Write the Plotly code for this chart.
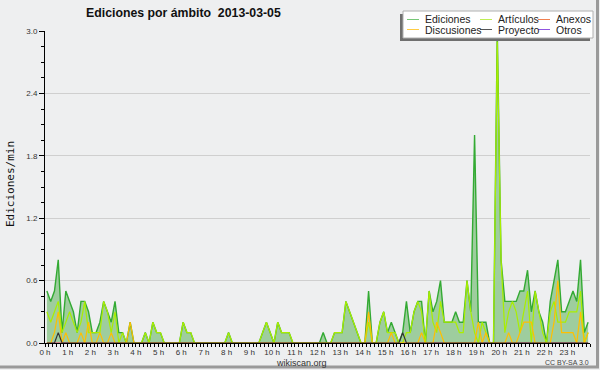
import plotly.graph_objects as go

# ---------------- data (edits per minute, 10-minute bins) ----------------
minutos = list(range(5, 1440, 10))  # bin centres, minutes after 00:00

ediciones = [
    0.5, 0.4, 0.5, 0.8, 0.1, 0.5, 0.4, 0.3, 0.1, 0.4, 0.4, 0.3,
    0.1, 0.1, 0.2, 0.4, 0.3, 0.2, 0.4, 0.1, 0.1, 0.0, 0.2, 0.0,
    0.0, 0.0, 0.1, 0.0, 0.2, 0.1, 0.1, 0.0, 0.0, 0.0, 0.0, 0.0,
    0.2, 0.1, 0.1, 0.0, 0.0, 0.0, 0.0, 0.0, 0.0, 0.0, 0.0, 0.0,
    0.1, 0.0, 0.0, 0.0, 0.0, 0.0, 0.0, 0.0, 0.0, 0.1, 0.2, 0.1,
    0.0, 0.2, 0.1, 0.1, 0.1, 0.0, 0.0, 0.0, 0.0, 0.0, 0.0, 0.0,
    0.0, 0.1, 0.0, 0.0, 0.1, 0.1, 0.1, 0.4, 0.3, 0.2, 0.1, 0.0,
    0.0, 0.5, 0.0, 0.0, 0.2, 0.3, 0.1, 0.2, 0.1, 0.0, 0.1, 0.4,
    0.1, 0.3, 0.4, 0.4, 0.0, 0.5, 0.3, 0.4, 0.6, 0.2, 0.2, 0.2,
    0.3, 0.2, 0.2, 0.6, 0.3, 2.0, 0.2, 0.2, 0.2, 0.0, 0.0, 3.0,
    0.8, 0.4, 0.4, 0.4, 0.4, 0.5, 0.5, 0.7, 0.3, 0.5, 0.3, 0.2,
    0.0, 0.4, 0.6, 0.8, 0.3, 0.3, 0.4, 0.5, 0.4, 0.8, 0.1, 0.2,
]

articulos = [
    0.3, 0.2, 0.3, 0.4, 0.1, 0.2, 0.3, 0.2, 0.1, 0.2, 0.4, 0.1,
    0.1, 0.1, 0.1, 0.4, 0.3, 0.1, 0.3, 0.0, 0.1, 0.0, 0.0, 0.0,
    0.0, 0.0, 0.1, 0.0, 0.2, 0.1, 0.1, 0.0, 0.0, 0.0, 0.0, 0.0,
    0.2, 0.1, 0.1, 0.0, 0.0, 0.0, 0.0, 0.0, 0.0, 0.0, 0.0, 0.0,
    0.1, 0.0, 0.0, 0.0, 0.0, 0.0, 0.0, 0.0, 0.0, 0.1, 0.2, 0.1,
    0.0, 0.2, 0.1, 0.1, 0.1, 0.0, 0.0, 0.0, 0.0, 0.0, 0.0, 0.0,
    0.0, 0.0, 0.0, 0.0, 0.1, 0.1, 0.1, 0.4, 0.3, 0.2, 0.1, 0.0,
    0.0, 0.2, 0.0, 0.0, 0.2, 0.3, 0.1, 0.1, 0.1, 0.0, 0.0, 0.1,
    0.1, 0.3, 0.4, 0.3, 0.0, 0.5, 0.2, 0.1, 0.4, 0.2, 0.2, 0.2,
    0.2, 0.1, 0.1, 0.6, 0.3, 0.1, 0.0, 0.2, 0.1, 0.0, 0.0, 2.9,
    0.8, 0.1, 0.3, 0.4, 0.3, 0.1, 0.3, 0.5, 0.0, 0.5, 0.3, 0.1,
    0.0, 0.3, 0.4, 0.2, 0.2, 0.2, 0.3, 0.3, 0.3, 0.5, 0.0, 0.1,
]

discusiones = [
    0.0, 0.0, 0.1, 0.3, 0.0, 0.1, 0.0, 0.0, 0.0, 0.1, 0.0, 0.2,
    0.0, 0.0, 0.1, 0.0, 0.0, 0.1, 0.0, 0.0, 0.0, 0.0, 0.2, 0.0,
    0.0, 0.0, 0.0, 0.0, 0.0, 0.0, 0.0, 0.0, 0.0, 0.0, 0.0, 0.0,
    0.0, 0.0, 0.0, 0.0, 0.0, 0.0, 0.0, 0.0, 0.0, 0.0, 0.0, 0.0,
    0.0, 0.0, 0.0, 0.0, 0.0, 0.0, 0.0, 0.0, 0.0, 0.0, 0.0, 0.0,
    0.0, 0.0, 0.0, 0.0, 0.0, 0.0, 0.0, 0.0, 0.0, 0.0, 0.0, 0.0,
    0.0, 0.0, 0.0, 0.0, 0.0, 0.0, 0.0, 0.0, 0.0, 0.0, 0.0, 0.0,
    0.0, 0.3, 0.0, 0.0, 0.0, 0.0, 0.0, 0.1, 0.0, 0.0, 0.0, 0.0,
    0.0, 0.0, 0.0, 0.1, 0.0, 0.0, 0.0, 0.2, 0.1, 0.0, 0.0, 0.0,
    0.0, 0.0, 0.0, 0.0, 0.0, 0.0, 0.2, 0.0, 0.1, 0.0, 0.0, 0.0,
    0.0, 0.0, 0.1, 0.0, 0.0, 0.1, 0.2, 0.2, 0.2, 0.0, 0.0, 0.0,
    0.0, 0.0, 0.2, 0.6, 0.1, 0.1, 0.1, 0.1, 0.0, 0.3, 0.0, 0.1,
]

proyecto = [
    0.0, 0.0, 0.0, 0.1, 0.0, 0.0, 0.0, 0.0, 0.0, 0.0, 0.0, 0.0,
    0.0, 0.0, 0.0, 0.0, 0.0, 0.0, 0.0, 0.0, 0.0, 0.0, 0.0, 0.0,
    0.0, 0.0, 0.0, 0.0, 0.0, 0.0, 0.0, 0.0, 0.0, 0.0, 0.0, 0.0,
    0.0, 0.0, 0.0, 0.0, 0.0, 0.0, 0.0, 0.0, 0.0, 0.0, 0.0, 0.0,
    0.0, 0.0, 0.0, 0.0, 0.0, 0.0, 0.0, 0.0, 0.0, 0.0, 0.0, 0.0,
    0.0, 0.0, 0.0, 0.0, 0.0, 0.0, 0.0, 0.0, 0.0, 0.0, 0.0, 0.0,
    0.0, 0.0, 0.0, 0.0, 0.0, 0.0, 0.0, 0.0, 0.0, 0.0, 0.0, 0.0,
    0.0, 0.0, 0.0, 0.0, 0.0, 0.0, 0.0, 0.0, 0.0, 0.0, 0.1, 0.0,
    0.0, 0.0, 0.0, 0.0, 0.0, 0.0, 0.0, 0.0, 0.0, 0.0, 0.0, 0.0,
    0.0, 0.0, 0.0, 0.0, 0.0, 0.0, 0.0, 0.0, 0.0, 0.0, 0.0, 0.0,
    0.0, 0.0, 0.0, 0.0, 0.0, 0.0, 0.0, 0.0, 0.0, 0.0, 0.0, 0.0,
    0.0, 0.0, 0.0, 0.0, 0.0, 0.0, 0.0, 0.0, 0.0, 0.0, 0.0, 0.0,
]

anexos = [0.0] * len(minutos)   # no activity in this namespace
otros = [0.0] * len(minutos)    # no activity in this namespace

hora_vals = [0, 60, 120, 180, 240, 300, 360, 420, 480, 540, 600, 660,
             720, 780, 840, 900, 960, 1020, 1080, 1140, 1200, 1260, 1320, 1380]
hora_text = ["0 h", "1 h", "2 h", "3 h", "4 h", "5 h", "6 h", "7 h", "8 h", "9 h",
             "10 h", "11 h", "12 h", "13 h", "14 h", "15 h", "16 h", "17 h",
             "18 h", "19 h", "20 h", "21 h", "22 h", "23 h"]
y_vals = [0.0, 0.6, 1.2, 1.8, 2.4, 3.0]
y_text = ["0.0", "0.6", "1.2", "1.8", "2.4", "3.0"]

series = [
    ("Ediciones", ediciones, "#33aa33", "#77c777"),
    ("Artículos", articulos, "#aaee00", "#bfee55"),
    ("Anexos", anexos, "#ff7744", "#f08050"),
    ("Discusiones", discusiones, "#ffbf00", "#ffcc44"),
    ("Proyecto", proyecto, "#333333", "#555555"),
    ("Otros", otros, "#9955ee", "#9055e0"),
]
colors = {n: c for n, _, c, _ in series}

BG = "#eeeff0"
FONT = "Liberation Sans"

fig = go.Figure()
fig.add_trace(go.Scatter(x=minutos, y=ediciones, mode="lines", name="Ediciones",
                         line=dict(color=colors["Ediciones"], width=1.4),
                         fill="tozeroy", fillcolor="#9ecd9e"))
for name, vals in [("Otros", otros), ("Anexos", anexos), ("Artículos", articulos),
                   ("Discusiones", discusiones), ("Proyecto", proyecto)]:
    fig.add_trace(go.Scatter(x=minutos, y=vals, mode="lines", name=name,
                             line=dict(color=colors[name], width=1.2)))

# plot area in pixels: x 45..590, y 31..343
def px(X):
    return (X - 45) / 545.0

def py(Y):
    return (343 - Y) / 312.0

shapes = []
annotations = []

# outer frame (right & bottom)
shapes.append(dict(type="line", xref="paper", yref="paper", x0=px(597.5), x1=px(597.5),
                   y0=py(0), y1=py(368), line=dict(color="#9a9a9a", width=3)))
shapes.append(dict(type="line", xref="paper", yref="paper", x0=px(0), x1=px(599),
                   y0=py(367), y1=py(367), line=dict(color="#9a9a9a", width=3)))

# legend box with shadow
shapes.append(dict(type="rect", xref="paper", yref="paper", x0=px(400), x1=px(590),
                   y0=py(41), y1=py(14), fillcolor="#6f6f6f", line=dict(width=0)))
shapes.append(dict(type="rect", xref="paper", yref="paper", x0=px(403), x1=px(593),
                   y0=py(38), y1=py(11), fillcolor="white",
                   line=dict(color="#b0b0b0", width=1)))

legend_pos = [407, 480, 538, 407, 480, 538]
legend_rows = [19.5, 19.5, 19.5, 29.5, 29.5, 29.5]
for (name, _, _, lc), lx, ly in zip(series, legend_pos, legend_rows):
    shapes.append(dict(type="line", xref="paper", yref="paper", x0=px(lx), x1=px(lx + 12),
                       y0=py(ly), y1=py(ly), line=dict(color=lc, width=1)))
    annotations.append(dict(xref="paper", yref="paper", x=px(lx + 16), y=py(ly),
                            xanchor="left", yanchor="middle", showarrow=False,
                            text=name, font=dict(family=FONT, size=10.5, color="#222")))

# title
annotations.append(dict(xref="paper", yref="paper", x=px(84), y=py(13.5),
                        xanchor="left", yanchor="middle", showarrow=False,
                        text="Ediciones por ámbito\u00a0 2013-03-05",
                        font=dict(family=FONT, size=12.3, color="#111", weight="bold")))
# y axis title
annotations.append(dict(xref="paper", yref="paper", x=px(10), y=py(184),
                        xanchor="center", yanchor="middle", showarrow=False, textangle=-90,
                        text="Ediciones/min",
                        font=dict(family="DejaVu Sans Mono", size=11, color="#111")))
# footer texts
annotations.append(dict(xref="paper", yref="paper", x=px(301), y=py(362.5),
                        xanchor="center", yanchor="middle", showarrow=False,
                        text="wikiscan.org", font=dict(family=FONT, size=9, color="#333")))
annotations.append(dict(xref="paper", yref="paper", x=px(591), y=py(362.5),
                        xanchor="right", yanchor="middle", showarrow=False,
                        text="CC BY-SA 3.0", font=dict(family=FONT, size=7, color="#444")))

fig.update_layout(
    width=600, height=370,
    margin=dict(l=45, r=10, t=31, b=27),
    paper_bgcolor=BG, plot_bgcolor=BG,
    showlegend=False,
    font=dict(family=FONT, size=8, color="#333"),
    shapes=shapes, annotations=annotations,
    xaxis=dict(range=[0, 1440], tickmode="array", tickvals=hora_vals, ticktext=hora_text,
               ticks="outside", ticklen=3, tickcolor="black", tickwidth=1,
               ticklabelstandoff=-2,
               showline=True, linecolor="black", linewidth=1,
               showgrid=False, zeroline=False,
               tickfont=dict(family=FONT, size=8, color="#333"),
               minor=dict(tick0=0, dtick=10, ticks="outside", ticklen=3,
                          tickcolor="black", tickwidth=1, showgrid=False)),
    yaxis=dict(range=[0, 3.0], tickmode="array", tickvals=y_vals, ticktext=y_text,
               ticks="outside", ticklen=5, tickcolor="black", tickwidth=1,
               showline=True, linecolor="black", linewidth=1,
               showgrid=True, gridcolor="#cfcfcf", gridwidth=1, zeroline=False,
               tickfont=dict(family=FONT, size=8, color="#333"),
               minor=dict(tick0=0, dtick=0.15, ticks="outside", ticklen=3,
                          tickcolor="black", tickwidth=1, showgrid=False)),
)

fig.write_html("out.html", config={"displayModeBar": False},
               post_script="document.body.style.margin='0';")
